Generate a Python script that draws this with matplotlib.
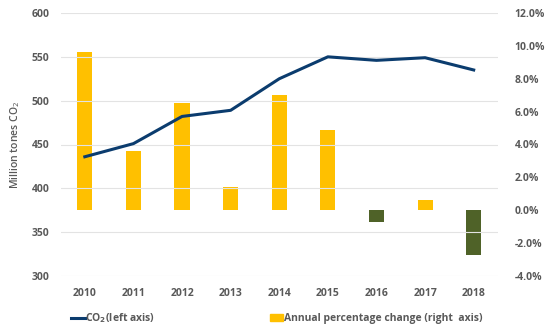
import matplotlib
matplotlib.use("Agg")
import matplotlib.pyplot as plt
import numpy as np
from matplotlib.lines import Line2D
from matplotlib.patches import Patch

plt.rcParams['font.family'] = ['Open Sans', 'DejaVu Sans']

years = ['2010', '2011', '2012', '2013', '2014', '2015', '2016', '2017', '2018']
co2 = [436, 451, 482, 489, 525, 550, 546, 549, 535]
pct_change = [9.6, 3.6, 6.5, 1.4, 7.0, 4.9, -0.7, 0.6, -2.7]
left_ticks = [300, 350, 400, 450, 500, 550, 600]
right_ticks = [-4, -2, 0, 2, 4, 6, 8, 10, 12]

yellow = '#FFC000'
green = '#4F6228'
navy = '#0B3C6E'
txt = '#595959'

fig = plt.figure(figsize=(5.5, 3.33), dpi=100)
ax = fig.add_axes([60.5/550, 1-276/333, (498-60.5)/550, 263/333])
ax2 = ax.twinx()

x = np.arange(len(years))
bar_colors = [yellow if v >= 0 else green for v in pct_change]
ax2.bar(x, pct_change, width=0.31, color=bar_colors, zorder=2)
ax2.set_ylim(-4, 12)
ax2.set_yticks(right_ticks)
ax2.set_yticklabels([f'{v:.1f}%' for v in right_ticks])

ax.plot(x, co2, color=navy, lw=2.2, zorder=3)
ax.set_ylim(300, 600)
ax.set_yticks(left_ticks)
ax.set_xlim(-0.5, len(years) - 0.5)
ax.set_xticks(x)
ax.set_xticklabels(years)
ax.grid(axis='y', color='#E3E3E3', lw=0.8)
ax.set_axisbelow(True)
ax.set_zorder(ax2.get_zorder() + 1)
ax.patch.set_visible(False)

for a in (ax, ax2):
    for s in a.spines.values():
        s.set_visible(False)
    a.tick_params(length=0, labelsize=7.5, labelcolor=txt)
    for lab in a.get_xticklabels() + a.get_yticklabels():
        lab.set_fontweight('bold')
ax.tick_params(axis='y', pad=8)
ax2.tick_params(axis='y', pad=12)
ax.tick_params(axis='x', pad=9)

ax.set_ylabel('Million tones CO$_2$', fontsize=7.5, color=txt, fontweight='semibold', labelpad=7)

h1 = Line2D([0], [0], color=navy, lw=2.2)
h2 = Patch(color=yellow)
fig.legend([h1, h2], ['CO$_\\mathbf{2}$(left axis)', 'Annual percentage change (right  axis)'],
           loc='lower center', bbox_to_anchor=(0.503, -0.005), ncol=2, frameon=False,
           prop={'size': 7.5, 'weight': 'bold'}, labelcolor=txt, columnspacing=11.0,
           handlelength=1.3, handletextpad=0.05)

fig.savefig('out.png', dpi=100)
